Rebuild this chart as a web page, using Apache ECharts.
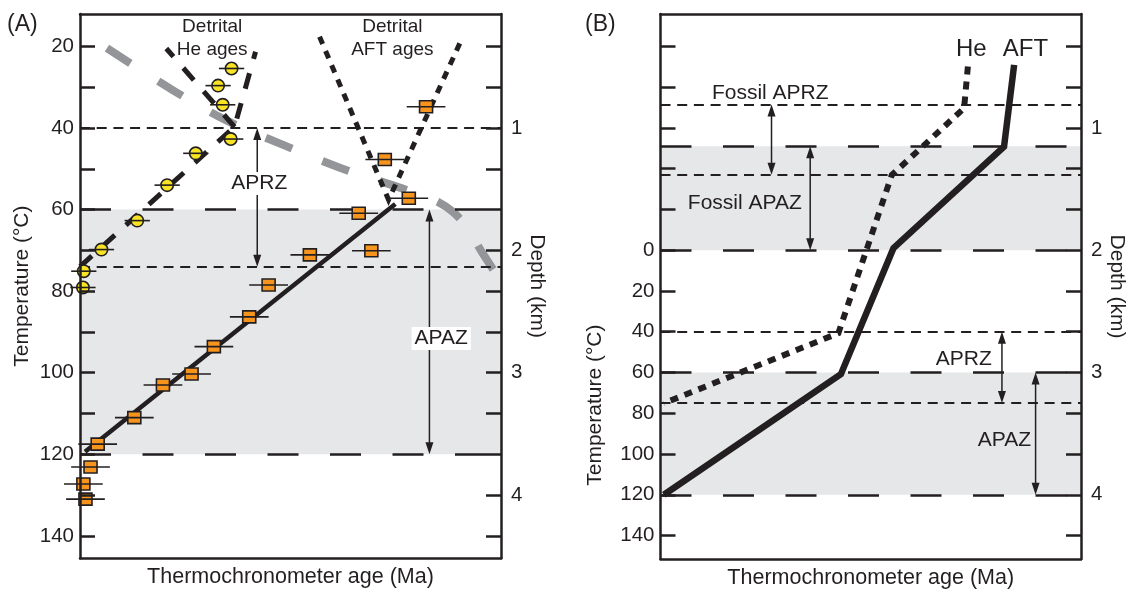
<!DOCTYPE html>
<html><head><meta charset="utf-8">
<script src="https://cdn.jsdelivr.net/npm/echarts@6/dist/echarts.min.js"></script>
<style>html,body{margin:0;padding:0;background:#fff}#c{width:1131px;height:594px}</style>
</head><body><div id="c"></div><script>
// ---------- data ----------
// Panel A: detrital He ages (age units arbitrary 0-100, temperature °C)
const heAge  = [36.0, 32.8, 33.9, 35.8, 27.5, 20.7, 13.6, 5.1, 0.9, 0.7];
const heTemp = [25.4, 29.6, 34.3, 42.7, 46.2, 54.0, 62.7, 69.8, 75.1, 79.1];
const heErr  = [3.0, 3.0, 3.0, 3.0, 3.0, 3.0, 3.0, 3.0, 3.0, 3.0];
// Panel A: detrital AFT ages
const aftAge  = [82.2, 72.4, 78.1, 66.2, 54.6, 69.2, 44.8, 40.2, 31.8, 26.5, 19.7, 12.9, 4.2, 2.5, 0.8, 1.3];
const aftTemp = [34.8, 47.7, 57.2, 60.9, 71.1, 70.1, 78.5, 86.3, 93.6, 100.3, 103.0, 111.0, 117.5, 123.1, 127.3, 131.0];
const aftErr  = [4.6, 4.6, 4.6, 4.6, 4.6, 4.6, 4.6, 4.6, 4.6, 4.6, 4.6, 4.6, 4.6, 4.6, 4.6, 4.6];
// Panel A: lines
const heProfileAge  = [0, 36.7, 41.7];
const heProfileTemp = [74.0, 39.7, 21.3];
const heBranchAge   = [36.7, 20.5];
const heBranchTemp  = [39.7, 20.5];
const aftVAge  = [56.9, 73.3, 90.4];
const aftVTemp = [17.6, 57.6, 18.8];
const aftFitAge  = [74.9, 1.2];
const aftFitTemp = [58.6, 119.4];
const grayAge  = [6.4, 22.0, 34.9, 48.4, 62.2, 76.5, 84.0, 88.5, 92.0, 95.5, 99.3];
const grayTemp = [20.4, 30.7, 38.2, 44.2, 49.9, 54.8, 57.6, 60.5, 64.5, 70.5, 76.5];
// Panel A zones (°C)
const aprzA = [40, 74];
const apazA = [60, 120];
// Panel B: model profiles
const heBAge   = [73.1, 72.2, 55.0, 42.3, 0.8];
const heBTemp  = [-90.1, -69.7, -36.9, 40.7, 75.1];
const aftBAge  = [84.1, 81.7, 55.4, 42.9, 0.8];
const aftBTemp = [-90.9, -50.8, -1.0, 60.8, 120.0];
// Panel B zones (°C)
const fossilAprz = [-71.5, -37];
const fossilApaz = [-51, 0];
const aprzB = [40, 75];
const apazB = [60, 120];
// Axis ticks and labels
const ticksA  = [20, 30, 40, 50, 60, 70, 80, 90, 100, 110, 120, 130, 140];
const labelsA = [20, 40, 60, 80, 100, 120, 140];
const ticksB  = [-100, -80, -60, -40, -20, 0, 20, 40, 60, 80, 100, 120, 140];
const labelsB = [0, 20, 40, 60, 80, 100, 120, 140];
const depthLabels = ['1', '2', '3', '4'];
const depthTempA  = [40, 70, 100, 130];
const depthTempB  = [-60, 0, 60, 120];

// ---------- styling ----------
const ink = '#231f20';
const FONT = 'Liberation Sans';
const bandColor = '#e6e7e8';
const shortDash = {type: [10, 6.7], width: 2, color: ink};
const longDash  = {type: [31, 31.5], width: 2.5, color: ink};

const chart = echarts.init(document.getElementById('c'), null, {renderer: 'canvas'});

function pairs(xs, ys) { return xs.map((x, i) => [x, ys[i]]); }

function xAxes(grid) {
  return [
    {gridIndex: grid, type: 'value', min: 0, max: 100, position: 'bottom', z: 10,
     axisLine: {show: true, onZero: false, lineStyle: {color: ink, width: 2.5}},
     axisTick: {show: false}, axisLabel: {show: false}, splitLine: {show: false},
     name: 'Thermochronometer age (Ma)', nameLocation: 'middle', nameGap: 8,
     nameTextStyle: {fontSize: 21.5, color: ink, fontFamily: FONT, verticalAlign: 'top'}},
    {gridIndex: grid, type: 'value', min: 0, max: 100, position: 'top', z: 10,
     axisLine: {show: true, onZero: false, lineStyle: {color: ink, width: 2.5}},
     axisTick: {show: false}, axisLabel: {show: false}, splitLine: {show: false}}
  ];
}

function yAxes(grid, min, max, ticks, labels, depthTemps, showTempName) {
  return [
    {gridIndex: grid, type: 'value', inverse: true, min: min, max: max, position: 'left', z: 10,
     axisLine: {show: true, onZero: false, lineStyle: {color: ink, width: 2.5}},
     axisTick: {show: true, inside: true, length: 15, customValues: ticks, lineStyle: {color: ink, width: 2.5}},
     axisLabel: {show: true, customValues: labels, margin: 6, fontSize: 20.5, color: ink, fontFamily: FONT},
     splitLine: {show: false},
     name: showTempName ? 'Temperature (°C)' : '', nameLocation: 'middle', nameGap: 47,
     nameTextStyle: {fontSize: 21, color: ink, fontFamily: FONT}},
    {gridIndex: grid, type: 'value', inverse: true, min: min, max: max, position: 'right', z: 10,
     axisLine: {show: true, onZero: false, lineStyle: {color: ink, width: 2.5}},
     axisTick: {show: true, inside: true, length: 15, customValues: ticks, lineStyle: {color: ink, width: 2.5}},
     axisLabel: {show: true, customValues: depthTemps, margin: 10, fontSize: 20.5, color: ink, fontFamily: FONT,
       formatter: v => { const i = depthTemps.findIndex(t => Math.abs(t - v) < 1e-6); return i >= 0 ? depthLabels[i] : ''; }},
     splitLine: {show: false},
     name: 'Depth (km)', nameLocation: 'middle', nameGap: 24, nameRotate: -90,
     nameTextStyle: {fontSize: 21, color: ink, fontFamily: FONT}}
  ];
}

function bandSeries(ax, bands) {
  return {type: 'line', xAxisIndex: ax, yAxisIndex: ax, data: [], z: 1, silent: true,
    markArea: {silent: true, itemStyle: {color: bandColor}, label: {show: false},
      data: bands.map(b => [{yAxis: b[0]}, {yAxis: b[1]}])}};
}

function refLineSeries(ax, shortVals, longVals) {
  const data = shortVals.map(v => ({yAxis: v, lineStyle: shortDash}))
    .concat(longVals.map(v => ({yAxis: v, lineStyle: longDash})));
  return {type: 'line', xAxisIndex: ax, yAxisIndex: ax, data: [], z: 2, silent: true,
    markLine: {silent: true, symbol: ['none', 'none'], label: {show: false}, animation: false, data: data}};
}

function lineSeries(ax, xs, ys, style, z, smooth) {
  return {type: 'line', xAxisIndex: ax, yAxisIndex: ax, data: pairs(xs, ys), symbol: 'none',
    smooth: smooth || false, clip: false, silent: true, z: z, lineStyle: Object.assign({color: ink, cap: 'butt', join: 'miter'}, style)};
}

function markerSeries(ax, xs, ys, errs, shape, color) {
  return {type: 'custom', xAxisIndex: ax, yAxisIndex: ax, z: 6, silent: true, clip: false,
    data: xs.map((x, i) => [x, ys[i], errs[i]]),
    renderItem: (params, api) => {
      const x = api.value(0), y = api.value(1), e = api.value(2);
      const c = api.coord([x, y]), l = api.coord([x - e, y]), r = api.coord([x + e, y]);
      const mark = shape === 'circle'
        ? {type: 'circle', shape: {cx: c[0], cy: c[1], r: 6.2}, style: {fill: color, stroke: ink, lineWidth: 1.6}}
        : {type: 'rect', shape: {x: c[0] - 6.5, y: c[1] - 6, width: 13, height: 12}, style: {fill: color, stroke: ink, lineWidth: 1.6}};
      return {type: 'group', children: [mark,
        {type: 'line', shape: {x1: l[0], y1: l[1], x2: r[0], y2: r[1]}, style: {stroke: ink, lineWidth: 1.6}}]};
    }};
}

function arrowSeries(ax, arrows) {
  return {type: 'custom', xAxisIndex: ax, yAxisIndex: ax, z: 4, silent: true, clip: false,
    data: arrows,
    renderItem: (params, api) => {
      const x = api.value(0);
      const a = api.coord([x, api.value(1)]), b = api.coord([x, api.value(2)]);
      const dx = b[0] - a[0], dy = b[1] - a[1], L = Math.hypot(dx, dy);
      const ux = dx / L, uy = dy / L, px = -uy, py = ux, hl = 12, hw = 4;
      const head = (p, s) => [[p[0], p[1]],
        [p[0] + s * ux * hl + px * hw, p[1] + s * uy * hl + py * hw],
        [p[0] + s * ux * hl - px * hw, p[1] + s * uy * hl - py * hw]];
      return {type: 'group', children: [
        {type: 'line', shape: {x1: a[0] + ux * 8, y1: a[1] + uy * 8, x2: b[0] - ux * 8, y2: b[1] - uy * 8}, style: {stroke: ink, lineWidth: 1.5}},
        {type: 'polygon', shape: {points: head(a, 1)}, style: {fill: ink}},
        {type: 'polygon', shape: {points: head(b, -1)}, style: {fill: ink}}]};
    }};
}

function textSeries(ax, items) {
  return {type: 'custom', xAxisIndex: ax, yAxisIndex: ax, z: 7, silent: true, clip: false,
    data: items.map(it => [it.x, it.y]),
    renderItem: (params, api) => {
      const it = items[params.dataIndex];
      const c = api.coord([api.value(0), api.value(1)]);
      const style = {text: it.t, fill: ink, font: it.size + 'px "' + FONT + '"', align: it.align || 'center',
        verticalAlign: 'middle', lineHeight: it.lh || it.size};
      if (it.bg) { style.backgroundColor = '#ffffff'; style.padding = [1, 3]; }
      return {type: 'text', x: c[0], y: c[1], rotation: it.rot || 0, style: style};
    }};
}

const option = {
  animation: false,
  backgroundColor: '#ffffff',
  title: [
    {text: '(A)', left: 7, top: 13, padding: 0, textStyle: {fontSize: 23, fontWeight: 'normal', color: ink, fontFamily: FONT}},
    {text: '(B)', left: 585, top: 13, padding: 0, textStyle: {fontSize: 23, fontWeight: 'normal', color: ink, fontFamily: FONT}}
  ],
  grid: [
    {left: 80, top: 14, width: 421, height: 544.3, containLabel: false},
    {left: 660.5, top: 14, width: 420.5, height: 545, containLabel: false}
  ],
  xAxis: xAxes(0).concat(xAxes(1)),
  yAxis: yAxes(0, 12.04, 145.5, ticksA, labelsA, depthTempA, true)
    .concat(yAxes(1, -115.9, 151.5, ticksB, labelsB, depthTempB, false)),
  series: [
    // ---- panel A ----
    bandSeries(0, [apazA]),
    refLineSeries(0, aprzA, apazA),
    lineSeries(0, grayAge, grayTemp, {color: '#939598', width: 8, type: [28, 33]}, 3, 0.35),
    arrowSeries(0, [[42.1, aprzA[0], aprzA[1]], [83.0, apazA[0], apazA[1]]]),
    lineSeries(0, heProfileAge, heProfileTemp, {width: 5, type: [16, 15]}, 5),
    lineSeries(0, heBranchAge, heBranchTemp, {width: 5, type: [16, 15]}, 5),
    lineSeries(0, aftVAge, aftVTemp, {width: 5, type: [8, 7.5]}, 5),
    lineSeries(0, aftFitAge, aftFitTemp, {width: 4.5}, 5),
    markerSeries(0, heAge, heTemp, heErr, 'circle', '#f8e424'),
    markerSeries(0, aftAge, aftTemp, aftErr, 'rect', '#f7941d'),
    textSeries(0, [
      {t: 'Detrital\nHe ages', x: 31.4, y: 18.0, size: 19, lh: 23},
      {t: 'Detrital\nAFT ages', x: 74.2, y: 18.0, size: 19, lh: 23},
      {t: 'APRZ', x: 42.6, y: 53.6, size: 21, bg: true},
      {t: 'APAZ', x: 85.8, y: 91.6, size: 21, bg: true}
    ]),
    // ---- panel B ----
    bandSeries(2, [fossilApaz, apazB]),
    refLineSeries(2, fossilAprz.concat(aprzB), fossilApaz.concat(apazB)),
    arrowSeries(2, [[26.4, fossilAprz[0], fossilAprz[1]], [35.6, fossilApaz[0], fossilApaz[1]],
                    [81.2, aprzB[0], aprzB[1]], [89.2, apazB[0], apazB[1]]]),
    lineSeries(2, heBAge, heBTemp, {width: 6, type: [8, 7]}, 5),
    lineSeries(2, aftBAge, aftBTemp, {width: 6.5}, 5),
    textSeries(2, [
      {t: 'He', x: 73.9, y: -98.6, size: 24},
      {t: 'AFT', x: 86.8, y: -98.6, size: 24},
      {t: 'Fossil APRZ', x: 26.1, y: -77.0, size: 21},
      {t: 'Fossil APAZ', x: 33.6, y: -23.3, size: 21, align: 'right'},
      {t: 'APRZ', x: 78.8, y: 53.3, size: 21, align: 'right'},
      {t: 'APAZ', x: 88.1, y: 93.1, size: 21, align: 'right'},
      {t: 'Temperature (°C)', x: -15.6, y: 76, size: 21, rot: Math.PI / 2}
    ])
  ]
};
chart.setOption(option);
</script></body></html>
